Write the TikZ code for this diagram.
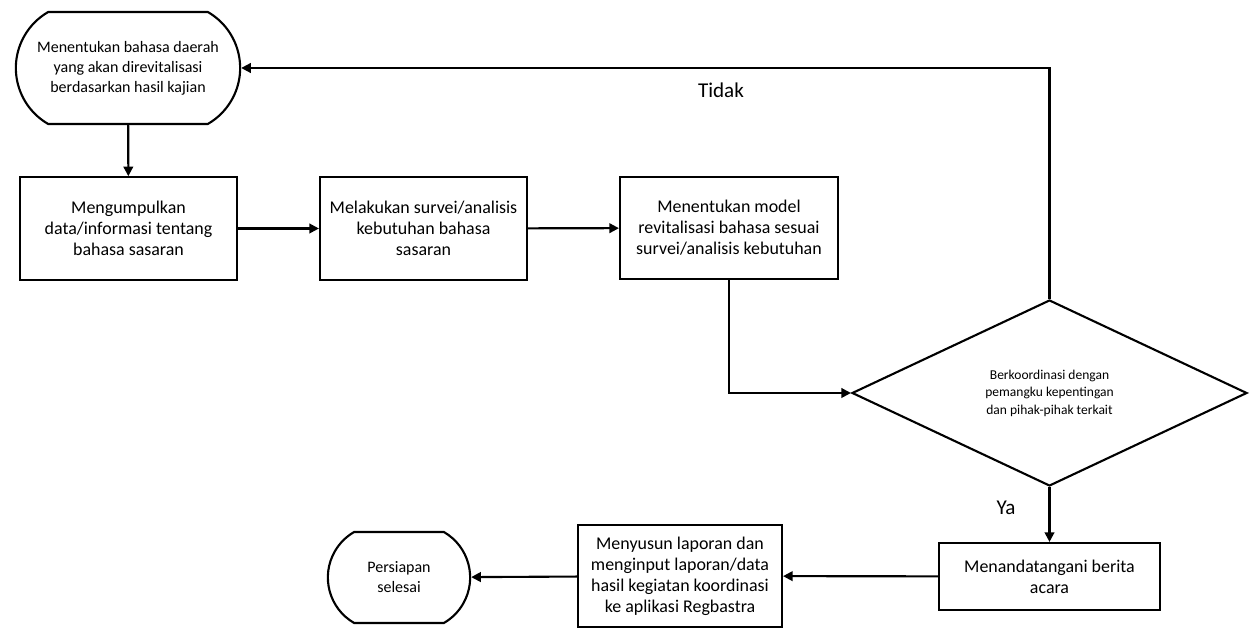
\documentclass[tikz,border=0pt]{standalone}
\usepackage{fontspec}
\setmainfont{Carlito}
\usepackage{tikz}
\usetikzlibrary{arrows.meta,shapes.geometric,shapes.misc,positioning}

\begin{document}
\begin{tikzpicture}[
  box/.style={rectangle, draw, line width=1.2pt, align=center,
              minimum width=4.3cm, minimum height=2.05cm,
              font=\fontsize{10.2}{12}\selectfont},
  term/.style={rounded rectangle, rounded rectangle arc length=120,
               draw, line width=1.2pt, align=center,
               font=\fontsize{9.1}{11.4}\selectfont},
  dec/.style={diamond, draw, line width=1.2pt, align=center,
              minimum width=7.9cm, minimum height=3.72cm, inner sep=0pt,
              font=\fontsize{7.7}{10}\selectfont},
  arrow/.style={-{Triangle[length=5.5pt,width=5.5pt]}, line width=1.2pt}
]
\useasboundingbox (0,0) rectangle (25,12.56);

\node[term, minimum width=4.72cm, minimum height=2.24cm] (start) at (2.56, 11.2)
  {Menentukan bahasa daerah\\yang akan direvitalisasi\\berdasarkan hasil kajian};

\node[box, minimum width=4.34cm] (kumpul) at (2.57, 7.99)
  {Mengumpulkan\\data/informasi tentang\\bahasa sasaran};
\node[box, minimum width=4.14cm] (survei) at (8.47, 7.99)
  {Melakukan survei/analisis\\kebutuhan bahasa\\sasaran};
\node[box, minimum width=4.36cm] (model) at (14.58, 8.0)
  {Menentukan model\\revitalisasi bahasa sesuai\\survei/analisis kebutuhan};

\node[dec] (koord) at (20.99, 4.7)
  {Berkoordinasi dengan\\pemangku kepentingan\\dan pihak-pihak terkait};

\node[box, minimum width=4.42cm, minimum height=1.34cm] (ttd) at (20.99, 1.03)
  {Menandatangani berita\\acara};
\node[box, minimum width=4.08cm, minimum height=2.04cm] (lapor) at (13.6, 1.04)
  {Menyusun laporan dan\\menginput laporan/data\\hasil kegiatan koordinasi\\ke aplikasi Regbastra};
\node[term, minimum width=3.08cm, minimum height=1.82cm] (selesai) at (7.98, 1.01)
  {Persiapan\\selesai};

\draw[arrow] (start) -- (kumpul);
\draw[arrow] (kumpul) -- (survei);
\draw[arrow] (survei) -- (model);
\draw[arrow] (model.south) |- (koord.west);
\draw[arrow] (koord.north) |- (start.east);
\draw[arrow] (koord) -- (ttd);
\draw[arrow] (ttd) -- (lapor);
\draw[arrow] (lapor) -- (selesai);

\node[font=\fontsize{12}{14}\selectfont] (tidak) at (14.42, 10.76) {Tidak};
\node[font=\fontsize{12}{14}\selectfont] (ya) at (20.12, 2.4) {Ya};

\end{tikzpicture}
\end{document}
